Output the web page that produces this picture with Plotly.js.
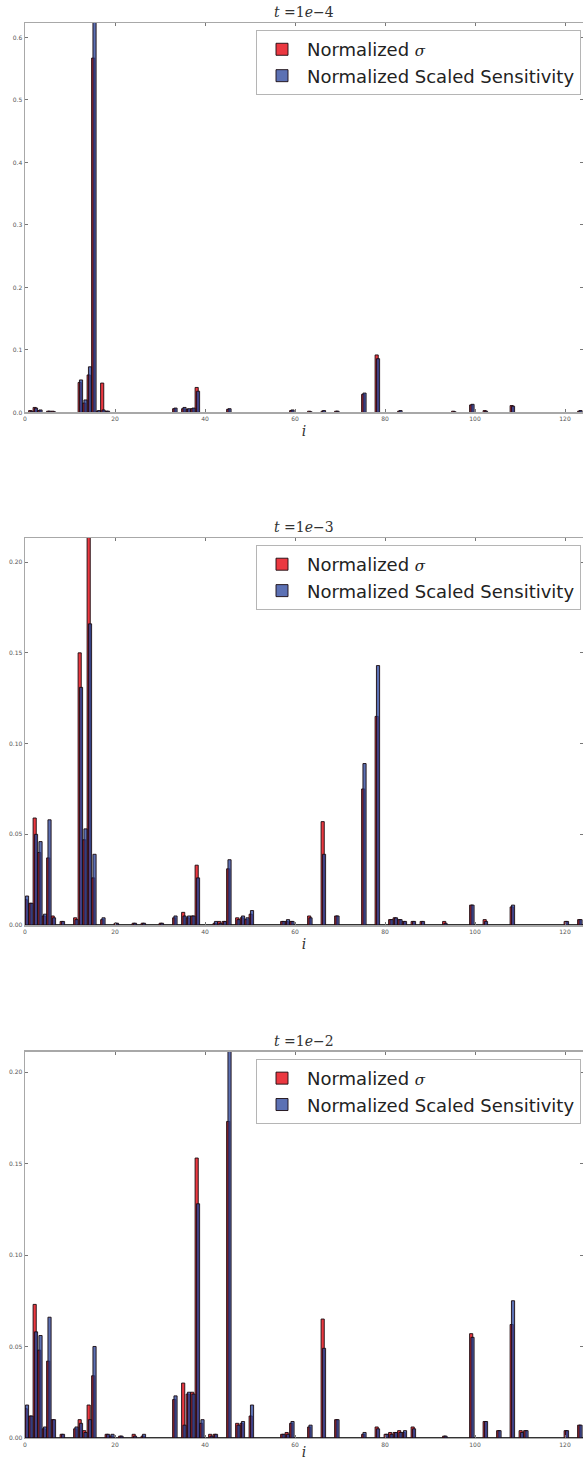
<!DOCTYPE html>
<html>
<head>
<meta charset="utf-8">
<script src="https://cdn.plot.ly/plotly-3.0.1.min.js"></script>
<style>html,body{margin:0;padding:0;background:#fff;}#chart{width:583px;height:1460px;}</style>
</head>
<body>
<div id="chart"></div>
<script>
// ---- Data ----
const panelTitles = ["<i>t</i> =1<i>e</i>\u22124", "<i>t</i> =1<i>e</i>\u22123", "<i>t</i> =1<i>e</i>\u22122"];
const seriesNames = ["Normalized <span style='font-family:DejaVu Serif;font-size:15px'><i>\u03c3</i></span>", "Normalized Scaled Sensitivity"];

// t = 1e-4
const idx1  = [1,2,3,5,6,12,13,14,15,16,17,18,33,35,36,37,38,45,59,63,66,69,75,78,83,95,99,102,108,123];
const sig1  = [0.003,0.008,0.003,0.002,0.002,0.048,0.015,0.060,0.567,0.002,0.047,0.002,0.006,0.006,0.005,0.006,0.040,0.005,0.003,0.002,0.002,0.002,0.029,0.092,0.002,0.002,0.012,0.003,0.011,0.002];
const sens1 = [0.002,0.007,0.004,0.002,0.001,0.052,0.020,0.073,0.680,0.003,0.004,0.002,0.007,0.008,0.006,0.007,0.034,0.006,0.004,0.001,0.003,0.002,0.031,0.086,0.003,0.001,0.013,0.002,0.010,0.003];

// t = 1e-3
const idx2  = [0,1,2,3,4,5,6,8,11,12,13,14,15,17,20,24,26,30,33,35,36,37,38,42,43,44,45,47,48,49,50,57,58,59,63,66,69,75,78,81,82,83,84,86,88,93,99,102,108,120,123];
const sig2  = [0.014,0.012,0.059,0.040,0.005,0.037,0.005,0.002,0.004,0.150,0.047,0.230,0.026,0.003,0.001,0.001,0.001,0.001,0.004,0.007,0.004,0.005,0.033,0.001,0.002,0.002,0.031,0.004,0.004,0.003,0.006,0.002,0.002,0.002,0.005,0.057,0.005,0.075,0.115,0.003,0.004,0.003,0.002,0.002,0.002,0.002,0.011,0.003,0.010,0.002,0.003];
const sens2 = [0.016,0.012,0.050,0.046,0.006,0.058,0.004,0.002,0.003,0.131,0.053,0.166,0.039,0.004,0.001,0.001,0.001,0.001,0.005,0.005,0.005,0.005,0.026,0.002,0.001,0.002,0.036,0.003,0.005,0.004,0.008,0.002,0.003,0.002,0.004,0.039,0.005,0.089,0.143,0.003,0.004,0.003,0.002,0.002,0.002,0.001,0.011,0.002,0.011,0.002,0.003];

// t = 1e-2
const idx3  = [0,1,2,3,4,5,6,8,11,12,13,14,15,18,19,21,24,26,33,35,36,37,38,39,41,42,45,47,48,50,57,58,59,63,66,69,75,78,80,81,82,83,84,86,93,99,102,105,108,110,111,120,123];
const sig3  = [0.016,0.012,0.073,0.048,0.005,0.042,0.010,0.002,0.005,0.010,0.004,0.018,0.034,0.002,0.001,0.001,0.002,0.001,0.021,0.030,0.024,0.025,0.153,0.008,0.002,0.002,0.173,0.008,0.008,0.012,0.002,0.003,0.008,0.006,0.065,0.010,0.002,0.006,0.002,0.003,0.003,0.004,0.003,0.006,0.001,0.057,0.009,0.004,0.062,0.004,0.004,0.004,0.007];
const sens3 = [0.018,0.012,0.058,0.056,0.006,0.066,0.010,0.002,0.006,0.008,0.003,0.010,0.050,0.002,0.002,0.001,0.001,0.002,0.023,0.007,0.025,0.024,0.128,0.010,0.001,0.002,0.230,0.007,0.009,0.018,0.002,0.002,0.009,0.007,0.049,0.010,0.003,0.005,0.002,0.002,0.003,0.003,0.004,0.005,0.001,0.055,0.009,0.004,0.075,0.003,0.004,0.004,0.007];

const xTickVals = [0,20,40,60,80,100,120];
const yTicks1 = [0.0,0.1,0.2,0.3,0.4,0.5,0.6];
const yTicks2 = [0.00,0.05,0.10,0.15,0.20];
const yTicks3 = [0.00,0.05,0.10,0.15,0.20];

// ---- Styling ----
const RED = 'rgba(232,28,38,0.88)';
const BLUE = 'rgba(38,66,155,0.75)';
const panels = [
  {idx: idx1, sig: sig1, sens: sens1, yr: [0, 0.623], ticks: yTicks1, fmt: '.1f', dom: [0.7175, 0.9842]},
  {idx: idx2, sig: sig2, sens: sens2, yr: [0, 0.2133], ticks: yTicks2, fmt: '.2f', dom: [0.3664, 0.6315]},
  {idx: idx3, sig: sig3, sens: sens3, yr: [0, 0.211], ticks: yTicks3, fmt: '.2f', dom: [0.0151, 0.2795]}
];

const traces = [];
const layout = {
  width: 583, height: 1460,
  margin: {l: 25, r: 0, t: 0, b: 0},
  paper_bgcolor: '#fff', plot_bgcolor: '#fff',
  barmode: 'overlay',
  showlegend: true,
  font: {family: 'DejaVu Sans', color: '#222'},
  annotations: []
};

panels.forEach((p, k) => {
  const s = k === 0 ? '' : String(k + 1);
  const legendId = 'legend' + s;
  traces.push({
    type: 'bar', x: p.idx, y: p.sig, name: seriesNames[0],
    xaxis: 'x' + s, yaxis: 'y' + s, legend: legendId, legendgroup: 'g1' + s,
    width: 0.7, offset: -0.2,
    marker: {color: RED, line: {color: '#1a0a10', width: 0.9}},
    hoverinfo: 'x+y'
  });
  traces.push({
    type: 'bar', x: p.idx, y: p.sens, name: seriesNames[1],
    xaxis: 'x' + s, yaxis: 'y' + s, legend: legendId, legendgroup: 'g2' + s,
    width: 0.7, offset: 0.1,
    marker: {color: BLUE, line: {color: '#1a0a10', width: 0.9}},
    hoverinfo: 'x+y'
  });

  const axFrame = {linecolor: '#a8a8a8', linewidth: 1.5, mirror: 'ticks', showline: true,
    ticks: 'inside', ticklen: 3, tickcolor: '#777', showgrid: false, zeroline: false,
    tickfont: {size: 6, color: '#555', family: 'DejaVu Sans'}};

  layout['xaxis' + s] = Object.assign({}, axFrame, {
    domain: [0, 1], range: [0, 124], anchor: 'y' + s,
    tickvals: xTickVals, ticktext: xTickVals.map(String),
    title: {text: '<i>i</i>', font: {family: 'DejaVu Serif', size: 14, color: '#333'}, standoff: 5}
  });
  layout['yaxis' + s] = Object.assign({}, axFrame, {
    domain: p.dom, range: p.yr, anchor: 'x' + s,
    tickvals: p.ticks, tickformat: p.fmt,
    zeroline: true, zerolinecolor: '#333', zerolinewidth: 1.3
  });

  const topPx = (1 - p.dom[1]) * 1460;
  layout[legendId] = {
    x: (256 - 25) / 558, xanchor: 'left',
    y: 1 - (topPx + 7) / 1460, yanchor: 'top',
    bgcolor: '#fff', bordercolor: '#b5b5b5', borderwidth: 1,
    font: {family: 'DejaVu Sans', size: 18, color: '#222'},
    tracegroupgap: 0, itemwidth: 40
  };

  layout.annotations.push({
    text: panelTitles[k], xref: 'paper', yref: 'paper', x: 0.5, y: p.dom[1],
    xanchor: 'center', yanchor: 'bottom', yshift: 1, showarrow: false,
    font: {family: 'DejaVu Serif', size: 14, color: '#333'}
  });
});

Plotly.newPlot('chart', traces, layout, {displayModeBar: false, staticPlot: true});
</script>
</body>
</html>
